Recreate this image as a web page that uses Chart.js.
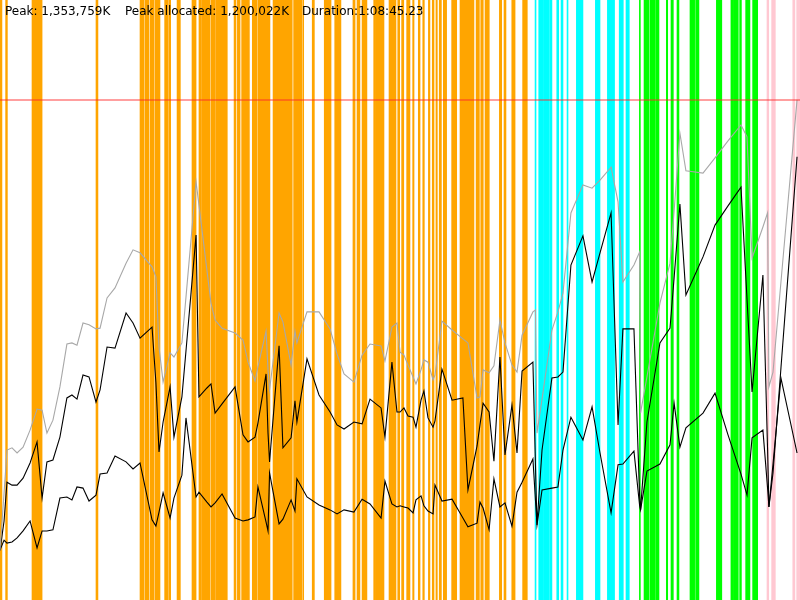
<!DOCTYPE html>
<html>
<head>
<meta charset="utf-8">
<title>Memory profile</title>
<script src="https://cdn.jsdelivr.net/npm/chart.js@4.4.1/dist/chart.umd.min.js"></script>
<style>
    html, body { margin: 0; padding: 0; background: #fff; }
    #wrap { position: relative; width: 800px; height: 600px; }
    #memChart { position: absolute; left: 0; top: 0; }
    .stat {
        position: absolute;
        top: 4px;
        font-family: "DejaVu Sans", sans-serif;
        font-size: 12px;
        color: #000;
        white-space: pre;
    }
</style>
</head>
<body>
<div id="wrap">
    <canvas id="memChart" width="800" height="600"></canvas>
    <span class="stat" style="left:5px">Peak: 1,353,759K</span>
    <span class="stat" style="left:125px">Peak allocated: 1,200,022K</span>
    <span class="stat" style="left:302px">Duration:1:08:45.23</span>
</div>
<script>
(function () {
    'use strict';

    // seconds; memory values in thousands of K
    const duration = 4125.23;
    const peakHeap = 1353.759;
    const axisMax = 1624.511;

    const times = [0, 21, 36, 62, 88, 119, 155, 191, 217, 242, 273, 309, 345, 371, 397, 428, 459, 495, 516, 552,
        593, 650, 686, 722, 784, 804, 820, 841, 877, 897, 938, 959, 1011, 1026, 1067, 1088, 1109, 1145, 1212, 1253,
        1279, 1315, 1330, 1372, 1382, 1390, 1439, 1459, 1501, 1521, 1531, 1583, 1645, 1702, 1738, 1774, 1825, 1867,
        1908, 1965, 1985, 2021, 2047, 2063, 2083, 2104, 2130, 2145, 2171, 2186, 2207, 2233, 2243, 2279, 2331, 2387,
        2413, 2460, 2475, 2491, 2522, 2547, 2578, 2604, 2640, 2666, 2692, 2748, 2761, 2769, 2795, 2846, 2877, 2903,
        2944, 3006, 3053, 3094, 3151, 3187, 3212, 3269, 3298, 3303, 3336, 3403, 3455, 3476, 3506, 3537, 3625, 3687,
        3754, 3821, 3852, 3878, 3934, 3958, 3965, 3986, 4027, 4110];

    const heapSize = [135, 290, 406, 412, 398, 414, 460, 517, 514, 452, 487, 577, 693, 696, 690, 750, 745, 734, 736, 818,
        845, 912, 948, 940, 902, 875, 685, 590, 669, 658, 696, 820, 1132, 1069, 893, 804, 758, 736, 723, 704,
        644, 593, 631, 728, 623, 569, 777, 753, 636, 728, 696, 780, 780, 734, 666, 612, 590, 663,
        693, 688, 647, 739, 750, 671, 663, 636, 604, 585, 623, 650, 644, 596, 609, 755, 731, 707,
        696, 547, 550, 623, 615, 634, 758, 696, 636, 617, 717, 780, 785, 452, 544, 731, 780, 831,
        1048, 1124, 1115, 1137, 1172, 1078, 861, 907, 942, 506, 604, 804, 912, 1053, 1264, 1162, 1156, 1197,
        1243, 1286, 1254, 926, 1010, 1048, 577, 617, 861, 1354];

    const allocated = [135, 214, 319, 311, 311, 330, 371, 428, 276, 374, 379, 441, 547, 555, 544, 609, 604, 536, 569, 685,
        682, 777, 750, 709, 739, 588, 401, 482, 577, 441, 550, 674, 988, 550, 574, 585, 506, 531, 577, 447,
        428, 441, 479, 612, 452, 374, 688, 412, 439, 539, 482, 653, 555, 509, 474, 463, 482, 477,
        544, 520, 441, 644, 509, 509, 520, 498, 495, 468, 541, 566, 493, 468, 485, 625, 541, 547,
        298, 417, 474, 533, 509, 376, 658, 393, 528, 398, 620, 644, 368, 203, 406, 601, 604, 617,
        907, 986, 861, 940, 1048, 474, 734, 734, 284, 244, 482, 696, 736, 872, 1072, 826, 929, 1015,
        1067, 1118, 815, 563, 880, 409, 252, 344, 628, 1200];

    const liveData = [135, 162, 154, 157, 168, 187, 214, 141, 187, 187, 190, 276, 279, 271, 306, 303, 268, 284, 341, 344,
        390, 374, 355, 371, 217, 200, 238, 290, 222, 276, 338, 493, 279, 292, 265, 252, 263, 287, 222, 214,
        217, 225, 306, 211, 187, 344, 206, 219, 271, 241, 328, 279, 257, 244, 233, 244, 238, 273,
        260, 222, 322, 260, 252, 255, 252, 249, 236, 271, 282, 255, 241, 233, 311, 268, 273, 222,
        198, 208, 265, 249, 190, 328, 252, 263, 200, 292, 319, 382, 271, 203, 298, 303, 306, 406,
        495, 433, 523, 398, 236, 366, 368, 403, 257, 244, 349, 368, 420, 533, 414, 466, 506, 560,
        447, 341, 284, 439, 460, 303, 252, 368, 601, 398];

    // collection periods, [start, end] in seconds
    const minorGC = [[0, 10], [29, 38], [165, 179], [182, 217], [495, 505], [722, 743], [748, 768], [774, 794],
        [799, 825], [849, 866], [870, 880], [913, 930], [990, 1011], [1026, 1039], [1042, 1083], [1088, 1109],
        [1112, 1133], [1136, 1172], [1207, 1217], [1224, 1238], [1246, 1286], [1301, 1324], [1329, 1392],
        [1408, 1432], [1435, 1507], [1514, 1556], [1561, 1566], [1610, 1621], [1672, 1707], [1726, 1758],
        [1820, 1831], [1841, 1856], [1867, 1892], [1927, 1937], [1940, 1963], [1966, 1980], [2006, 2042],
        [2051, 2061], [2071, 2082], [2097, 2114], [2128, 2135], [2157, 2166], [2180, 2188], [2209, 2217],
        [2229, 2238], [2248, 2255], [2265, 2276], [2286, 2303], [2329, 2355], [2372, 2444], [2455, 2472],
        [2479, 2492], [2501, 2523], [2575, 2587], [2599, 2609], [2639, 2656], [2695, 2719]];
    const concurrentGC = [[2759, 2764], [2778, 2803], [2805, 2831], [2834, 2846], [2871, 2881], [2893, 2903],
        [2924, 2929], [2972, 3006], [3070, 3094], [3132, 3169], [3193, 3214], [3228, 3245]];
    const fullGC = [[3297, 3302], [3321, 3347], [3352, 3378], [3381, 3398], [3436, 3443], [3460, 3472],
        [3491, 3501], [3558, 3582], [3587, 3604], [3694, 3722], [3769, 3783], [3786, 3807], [3814, 3823],
        [3845, 3867], [3881, 3907]];
    const compactGC = [[3955, 3964], [3979, 3998], [4088, 4099], [4108, 4125]];

    function toPoints(values) {
        return times.map(function (t, i) {
            return { x: t, y: values[i] };
        });
    }

    function gcBand(ranges, color) {
        return {
            type: 'bar',
            indexAxis: 'y',
            xAxisID: 'x',
            yAxisID: 'yBand',
            data: ranges.map(function (r) { return { x: r, y: 'gc' }; }),
            backgroundColor: color,
            borderWidth: 0,
            barPercentage: 1,
            categoryPercentage: 1,
            grouped: false,
            order: 10
        };
    }

    function memLine(values, color, width) {
        return {
            type: 'line',
            xAxisID: 'x',
            yAxisID: 'y',
            data: toPoints(values),
            borderColor: color,
            borderWidth: width,
            pointRadius: 0,
            tension: 0,
            fill: false,
            order: 2
        };
    }

    const datasets = [
        gcBand(minorGC, '#ffa500'),
        gcBand(concurrentGC, '#00ffff'),
        gcBand(fullGC, '#00ff00'),
        gcBand(compactGC, '#ffc8d2'),
        memLine(heapSize, '#a8a8a8', 1.1),
        memLine(allocated, '#000000', 1.1),
        memLine(liveData, '#000000', 1.1),
        {
            type: 'line',
            xAxisID: 'x',
            yAxisID: 'y',
            data: [{ x: 0, y: peakHeap }, { x: duration, y: peakHeap }],
            borderColor: 'rgba(255, 40, 40, 0.6)',
            borderWidth: 1.6,
            pointRadius: 0,
            order: 1
        }
    ];

    new Chart(document.getElementById('memChart'), {
        type: 'line',
        data: { datasets: datasets },
        options: {
            responsive: false,
            animation: false,
            layout: { padding: 0 },
            plugins: {
                legend: { display: false },
                tooltip: { enabled: false },
                title: { display: false }
            },
            scales: {
                x: { type: 'linear', min: 0, max: duration, display: false },
                y: { type: 'linear', min: 0, max: axisMax, display: false },
                yBand: { type: 'category', axis: 'y', labels: ['gc'], offset: true, display: false }
            }
        }
    });
})();
</script>
</body>
</html>
